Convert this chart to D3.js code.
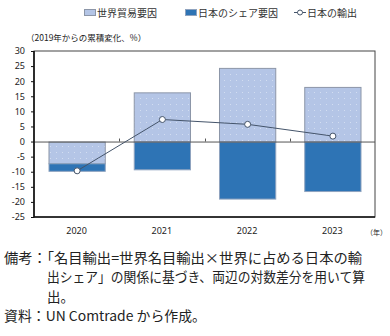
<!DOCTYPE html>
<html>
<head>
<meta charset="utf-8">
<script src="https://cdn.jsdelivr.net/npm/d3@7"></script>
<style>
  html, body { margin: 0; padding: 0; background: #fff; }
  svg { display: block; font-family: "Noto Sans CJK JP", "Noto Sans", sans-serif; }
</style>
</head>
<body>
<svg id="chart" width="390" height="336"></svg>
<script>
// Categories and series (cumulative change from 2019, %)
const years = ["2020", "2021", "2022", "2023"];
const worldTrade = [-7.2, 16.3, 24.4, 18.1];   // 世界貿易要因
const japanShare = [-2.5, -9.2, -18.9, -16.4]; // 日本のシェア要因
const japanExports = [-9.7, 7.3, 5.7, 1.8];    // 日本の輸出
const yTicks = [30, 25, 20, 15, 10, 5, 0, -5, -10, -15, -20, -25];

const seriesNames = ["世界貿易要因", "日本のシェア要因", "日本の輸出"];
const unitLabel = "（2019年からの累積変化、%）";
const yearUnit = "（年）";
const notes = [
  { text: "備考：「名目輸出=世界名目輸出×世界に占める日本の輸", x: 4, w: 358 },
  { text: "出シェア」の関係に基づき、両辺の対数差分を用いて算", x: 47, w: 318 },
  { text: "出。", x: 47, w: null },
  { text: "資料：UN Comtrade から作成。", x: 4, w: 202 }
];

const svg = d3.select("#chart");
const plot = { left: 34, right: 375, top: 51, bottom: 217 };

const x = d3.scaleBand().domain(years).range([plot.left, plot.right]).paddingInner(0.34).paddingOuter(0.17);
const xOuter = d3.scaleBand().domain(years).range([plot.left, plot.right]);
const y = d3.scaleLinear().domain([-25, 30]).range([plot.bottom, plot.top]);

const lightFill = "#b4c5e6", lightStroke = "#8c96a8";
const darkFill = "#2e74b5", darkStroke = "#8fa3bf";

// faint dotted texture on the light bars
const defs = svg.append("defs");
const pat = defs.append("pattern").attr("id", "dots").attr("patternUnits", "userSpaceOnUse")
  .attr("width", 6).attr("height", 6);
pat.append("rect").attr("width", 6).attr("height", 6).attr("fill", lightFill);
pat.append("rect").attr("x", 2).attr("y", 2).attr("width", 1).attr("height", 1).attr("fill", "#d2ddf1");

// plot frame
svg.append("rect").attr("x", plot.left).attr("y", plot.top)
  .attr("width", plot.right - plot.left).attr("height", plot.bottom - plot.top)
  .attr("fill", "none").attr("stroke", "#444").attr("stroke-width", 1);

// world-trade bars (from zero)
svg.append("g").selectAll("rect").data(years).join("rect")
  .attr("x", d => x(d) + 0.5)
  .attr("y", (d, i) => y(Math.max(0, worldTrade[i])) + 0.5)
  .attr("width", x.bandwidth())
  .attr("height", (d, i) => Math.abs(y(worldTrade[i]) - y(0)))
  .attr("fill", "url(#dots)").attr("stroke", lightStroke).attr("stroke-width", 1);

// share bars, stacked on the negative side
svg.append("g").selectAll("rect").data(years).join("rect")
  .attr("x", d => x(d) + 0.5)
  .attr("y", (d, i) => y(Math.min(0, worldTrade[i])) + 0.5)
  .attr("width", x.bandwidth())
  .attr("height", (d, i) => Math.abs(y(0) - y(-Math.abs(japanShare[i]))))
  .attr("fill", darkFill).attr("stroke", darkStroke).attr("stroke-width", 1);

// zero line with category separators
svg.append("line").attr("x1", plot.left).attr("x2", plot.right)
  .attr("y1", y(0) + 0.5).attr("y2", y(0) + 0.5).attr("stroke", "#555").attr("stroke-width", 1);
svg.append("g").selectAll("line").data(years.slice(1)).join("line")
  .attr("x1", d => Math.round(xOuter(d)) + 0.5).attr("x2", d => Math.round(xOuter(d)) + 0.5)
  .attr("y1", y(0)).attr("y2", y(0) - 3).attr("stroke", "#555");

// axes: left and bottom drawn heavier
svg.append("line").attr("x1", plot.left).attr("x2", plot.left)
  .attr("y1", plot.top).attr("y2", plot.bottom + 0.5).attr("stroke", "#111").attr("stroke-width", 1.6);
svg.append("line").attr("x1", plot.left).attr("x2", plot.right)
  .attr("y1", plot.bottom).attr("y2", plot.bottom).attr("stroke", "#111").attr("stroke-width", 1.6);

const yAxis = d3.axisLeft(y).tickValues(yTicks).tickSize(3).tickPadding(6).tickFormat(d3.format("d"));
const gy = svg.append("g").attr("transform", `translate(${plot.left},0)`).call(yAxis);
gy.select(".domain").remove();
gy.selectAll(".tick line").attr("stroke", "#111");
gy.selectAll(".tick text").attr("fill", "#222").style("font-size", "9px")
  .style("font-family", "'Noto Sans', sans-serif").text(d => d < 0 ? "-" + Math.abs(d) : d);

const xAxis = d3.axisBottom(x).tickSize(0).tickPadding(11);
const gx = svg.append("g").attr("transform", `translate(0,${plot.bottom})`).call(xAxis);
gx.select(".domain").remove();
gx.selectAll(".tick text").attr("fill", "#222").style("font-size", "9px")
  .style("font-family", "'Noto Sans', sans-serif");

// year unit, kept tight so it stays inside the right edge
svg.append("text").attr("x", 387).attr("y", 235).attr("fill", "#222")
  .attr("text-anchor", "end").style("font-size", "7px").text(yearUnit);

// exports line with hollow markers
const line = d3.line().x((d, i) => x(years[i]) + x.bandwidth() / 2 + 0.5).y(d => y(d));
svg.append("path").datum(japanExports).attr("d", line)
  .attr("fill", "none").attr("stroke", "#44546a").attr("stroke-width", 1);
svg.append("g").selectAll("circle").data(japanExports).join("circle")
  .attr("cx", (d, i) => x(years[i]) + x.bandwidth() / 2 + 0.5).attr("cy", d => y(d))
  .attr("r", 3).attr("fill", "#fff").attr("stroke", "#44546a").attr("stroke-width", 1);

// unit label
svg.append("text").attr("x", 26).attr("y", 41).attr("fill", "#222")
  .style("font-size", "8.5px").text(unitLabel);

// legend
const lg = svg.append("g").style("font-size", "10px").attr("fill", "#333");
lg.append("rect").attr("x", 84.5).attr("y", 9.5).attr("width", 11).attr("height", 6)
  .attr("fill", lightFill).attr("stroke", lightStroke);
lg.append("text").attr("x", 97).attr("y", 17).text(seriesNames[0]);
lg.append("rect").attr("x", 185.5).attr("y", 9.5).attr("width", 11).attr("height", 6)
  .attr("fill", darkFill).attr("stroke", darkStroke);
lg.append("text").attr("x", 198).attr("y", 17).text(seriesNames[1]);
lg.append("line").attr("x1", 294).attr("x2", 306).attr("y1", 12.5).attr("y2", 12.5).attr("stroke", "#44546a");
lg.append("circle").attr("cx", 300).attr("cy", 12.5).attr("r", 2.5).attr("fill", "#fff").attr("stroke", "#44546a");
lg.append("text").attr("x", 307).attr("y", 17).text(seriesNames[2]);

// notes below the chart
const nt = svg.append("g").selectAll("text").data(notes).join("text")
  .attr("x", d => d.x).attr("y", (d, i) => 263 + i * 19.3)
  .attr("fill", "#222").style("font-size", "13.5px").text(d => d.text);
nt.filter(d => d.w).attr("textLength", d => d.w).attr("lengthAdjust", "spacingAndGlyphs");
</script>
</body>
</html>
